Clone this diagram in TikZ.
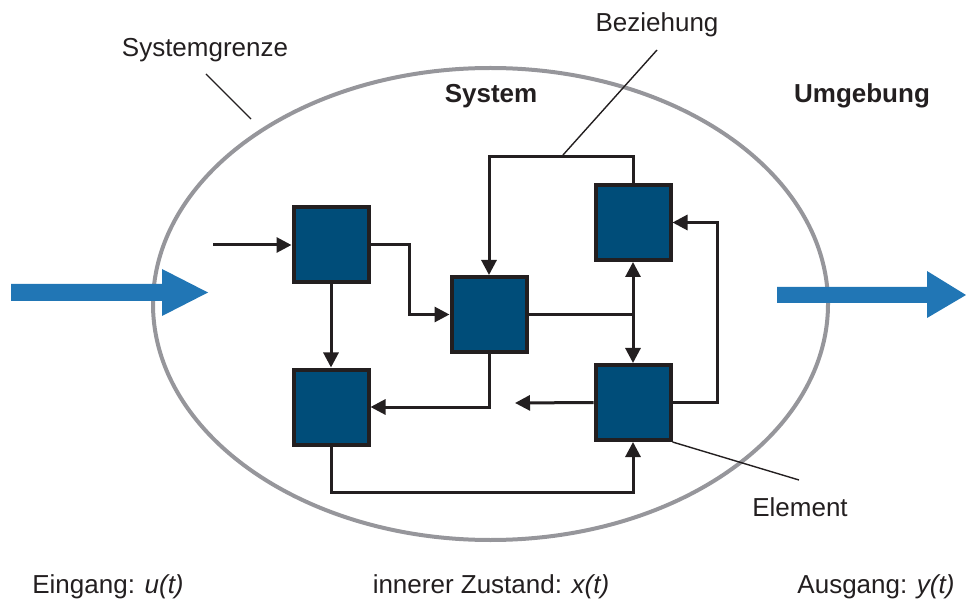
\documentclass[tikz,border=0pt]{standalone}
\usepackage{fontspec}
\setmainfont{Liberation Sans}
\usetikzlibrary{arrows.meta}
\definecolor{boxblue}{RGB}{0,77,121}
\definecolor{linek}{RGB}{35,31,32}
\definecolor{arrowblue}{RGB}{33,118,181}
\definecolor{grenzgray}{RGB}{150,150,155}
\begin{document}
\begin{tikzpicture}[x=1pt,y=-1pt,
  elem/.style={draw=linek,fill=boxblue,line width=4pt,minimum size=75pt,inner sep=0pt},
  conn/.style={draw=linek,line width=3pt,line join=miter,-{Triangle[length=15pt,width=15pt]}},
  connb/.style={draw=linek,line width=3pt,{Triangle[length=15pt,width=15pt]}-{Triangle[length=15pt,width=15pt]}},
  plain/.style={draw=linek,line width=3pt,line join=miter},
  leader/.style={draw=linek,line width=1.4pt},
  lbl/.style={font=\fontsize{26}{30}\selectfont,text=linek,inner sep=0pt},
  blbl/.style={font=\fontsize{26}{30}\selectfont\bfseries,text=linek,inner sep=0pt},
  bigarrow/.style={fill=arrowblue,draw=none}
]
\useasboundingbox (0,0) rectangle (966,601);
% system boundary
\draw[grenzgray,line width=4pt] (490.5,304) ellipse [x radius=337.5, y radius=236];
% big arrows
\fill[bigarrow] (11,284) -- (162,284) -- (162,269) -- (208,292.5) -- (162,316) -- (162,301) -- (11,301) -- cycle;
\fill[bigarrow] (777,287) -- (927,287) -- (927,271) -- (966,295) -- (927,318) -- (927,303) -- (777,303) -- cycle;
% elements
\node[elem] (A) at (331,245) {};
\node[elem] (B) at (489,314.5) {};
\node[elem] (C) at (633,222.5) {};
\node[elem] (D) at (331,407) {};
\node[elem] (E) at (633,402.5) {};
% free ends
\coordinate (in) at (213,245);
\coordinate (eout) at (515,403);
% connectors
\draw[conn] (in) -- (A.west);
\draw[conn] (A.east) -- ++(39,0) |- (B.west);
\draw[conn] (A.south) -- (D.north);
\draw[conn] (C.north) -- ++(0,-26) -| (B.north);
\draw[plain] (B.east) -- (C.south |- B.east);
\draw[connb] (C.south) -- (E.north);
\draw[conn] (B.south) |- (D.east);
\draw[conn] (E.west) -- (eout);
\draw[conn] (D.south) -- ++(0,46) -| (E.south);
\draw[conn] (E.east) -- ++(45,0) |- (C.east);
% labels
\node[lbl] (sg) at (205,50) {Systemgrenze};
\node[lbl] (bz) at (657,25) {Beziehung};
\node[blbl] (sys) at (491,96) {System};
\node[blbl] (umg) at (862,96) {Umgebung};
\node[lbl] (el) at (800,507) {Element};
\coordinate (sgstart) at (206,74);
\coordinate (sgend) at (251,119);
\coordinate (bzstart) at (657,50);
\coordinate (bzend) at (563,155);
\coordinate (elend) at (799,480);
\draw[leader] (sgstart) -- (sgend);
\draw[leader] (bzstart) -- (bzend);
\draw[leader] (E.south east) -- (elend);
\node[lbl,anchor=base] (ein) at (108,593) {Eingang: \textit{u(t)}};
\node[lbl,anchor=base] (zu) at (491,593) {innerer Zustand: \textit{x(t)}};
\node[lbl,anchor=base] (aus) at (876,593) {Ausgang: \textit{y(t)}};
\end{tikzpicture}
\end{document}
